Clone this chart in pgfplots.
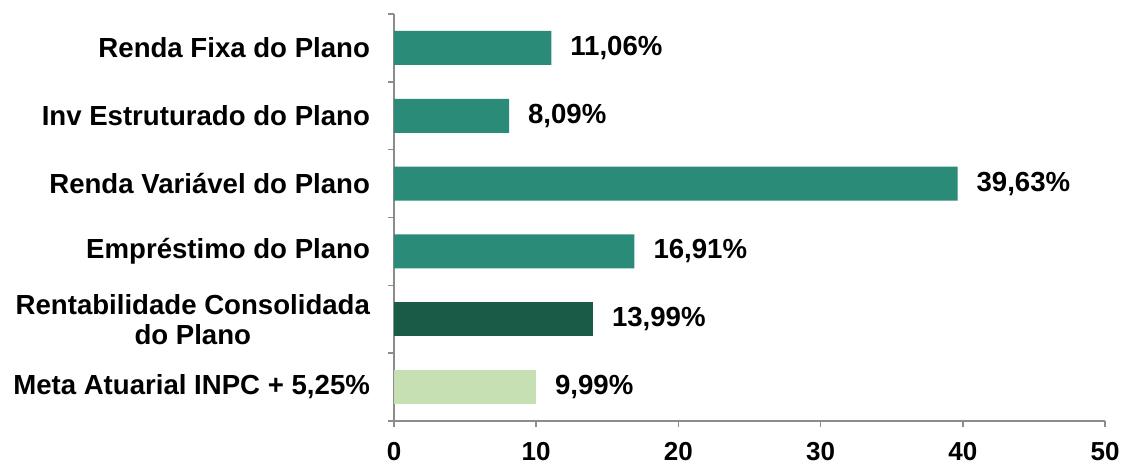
\documentclass[border=0pt]{standalone}
\usepackage{fontspec}
\setmainfont{Liberation Sans}
\usepackage{pgfplots}
\pgfplotsset{compat=1.18}
\definecolor{teal1}{HTML}{2A8B79}
\definecolor{dark1}{HTML}{1A5B47}
\definecolor{light1}{HTML}{C6E0B4}
\definecolor{axgray}{HTML}{8C8C8C}
\begin{document}
\begin{tikzpicture}
\begin{axis}[
  scale only axis,
  width=355.5pt, height=203.5pt,
  xmin=0, xmax=50,
  ymin=-0.5, ymax=5.5,
  y dir=reverse,
  xbar, bar width=17pt,
  axis x line*=bottom, axis y line*=left,
  axis line style={axgray, line width=0.8pt},
  tick style={axgray, line width=0.8pt},
  tick align=outside,
  xtick={0,10,20,30,40,50},
  major tick length=3pt,
  ytick={0,1,2,3,4,5},
  yticklabels={Renda Fixa do Plano, Inv Estruturado do Plano, Renda Variável do Plano, Empréstimo do Plano, {Rentabilidade Consolidada\\do Plano}, Meta Atuarial INPC + 5{,}25\%},
  minor ytick={-0.5,0.5,1.5,2.5,3.5,4.5,5.5},
  major y tick style={draw=none},
  minor tick length=3pt,
  yticklabel style={align=center, font=\fontsize{13.8}{15}\selectfont\bfseries, xshift=-5.5pt},
  xticklabel style={font=\fontsize{13}{15}\selectfont\bfseries, yshift=-4pt},
  /pgf/number format/assume math mode=true,
  clip=false,
  nodes near coords,
  point meta=explicit symbolic,
  every node near coord/.style={font=\fontsize{13.8}{15}\selectfont\bfseries, black, anchor=west, xshift=6pt},
]
\addplot[fill=teal1, draw=none, bar shift=0pt] coordinates {
  (11.06,0) [11,06\%]
  (8.09,1) [8,09\%]
  (39.63,2) [39,63\%]
  (16.91,3) [16,91\%]
};
\addplot[fill=dark1, draw=none, bar shift=0pt] coordinates {
  (13.99,4) [13,99\%]
};
\addplot[fill=light1, draw=none, bar shift=0pt] coordinates {
  (9.99,5) [9,99\%]
};
\end{axis}
\pgfresetboundingbox
\path (-197pt,-23pt) rectangle (365pt,210.5pt);
\end{tikzpicture}
\end{document}
